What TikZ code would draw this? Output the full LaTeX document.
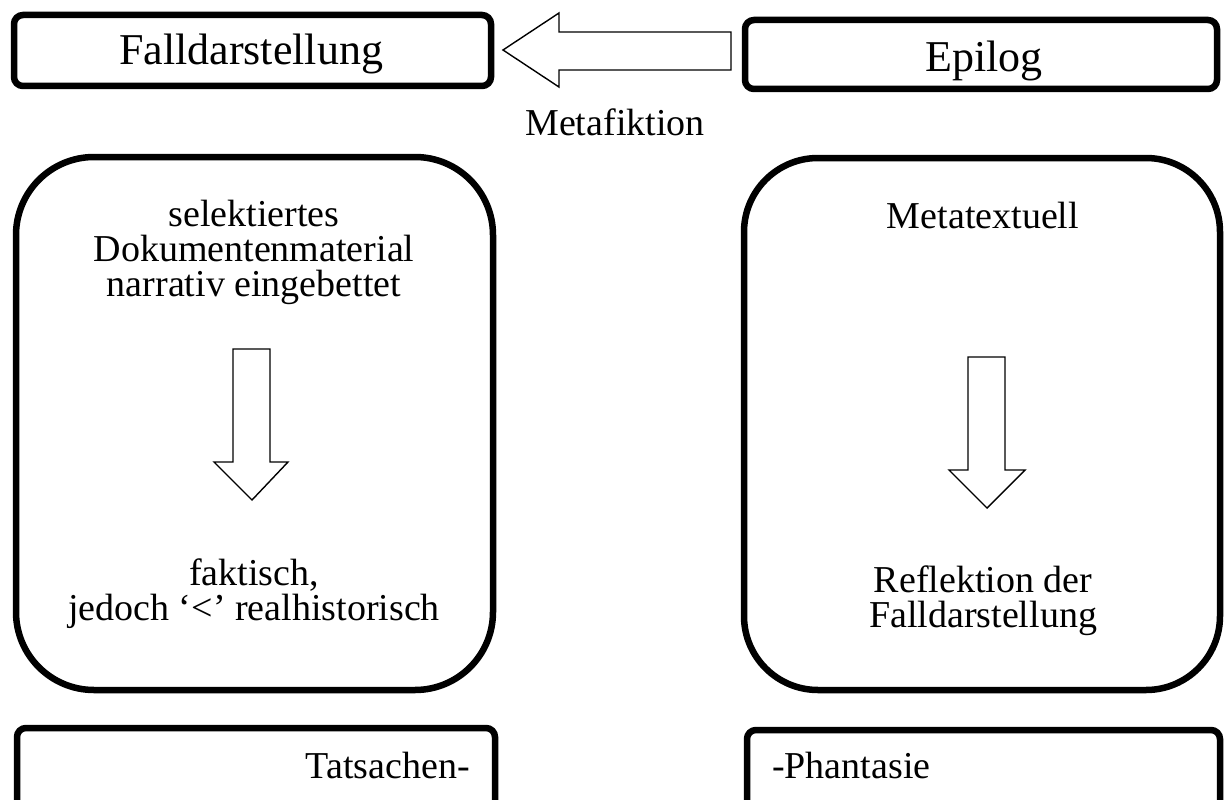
\documentclass[tikz,border=0pt]{standalone}
\usepackage{fontspec}
\setmainfont{Liberation Serif}
\usepackage{tikz}
\usetikzlibrary{positioning}
\definecolor{cLine}{HTML}{000000}
\newcommand{\bigtxt}{\fontsize{38}{35}\selectfont}
\newcommand{\toptxt}{\fontsize{44}{40}\selectfont}
\tikzset{
  tbox/.style ={draw=cLine, line width=6.5pt, rounded corners=9pt, inner sep=0pt},
  rbox/.style ={draw=cLine, line width=6.5pt, rounded corners=78pt, inner sep=0pt},
  blockarr/.style={draw=cLine, line width=1.4pt, fill=white, line join=miter},
  lbl/.style  ={font=\bigtxt, align=center, inner sep=0pt},
  toplbl/.style={font=\toptxt, inner sep=0pt, anchor=base},
}
\begin{document}
\begin{tikzpicture}[x=1pt,y=-1pt]
  \useasboundingbox (0,0) rectangle (1224,800);
  % top row
  \node[tbox, minimum width=477pt, minimum height=71pt] (fall) at (252.5,50.5) {};
  \node[tbox, minimum width=472pt, minimum height=69pt] (epi) at (981,54.5) {};
  \node[toplbl] (tfall) at (251,65) {Falldarstellung};
  \node[toplbl] (tepi) at (984,72) {Epilog};
  \draw[blockarr] (503,50)--(559,13)--(559,32)--(731,32)--(731,70)--(559,70)--(559,87)--cycle;
  \node[lbl] (meta) at (615,122) {Metafiktion};
  % big boxes
  \node[rbox, minimum width=477pt, minimum height=533pt] (links) at (254.5,423.5) {};
  \node[rbox, minimum width=476pt, minimum height=532pt, rounded corners=74pt] (rechts) at (982,424) {};
  \node[lbl] (sel) at (254,252) {selektiertes\\Dokumentenmaterial\\narrativ eingebettet};
  \node[lbl] (fak) at (254,594) {faktisch,\\jedoch ‘<’ realhistorisch};
  \node[lbl] (mtx) at (983,216) {Metatextuell};
  \node[lbl] (refl) at (983,601) {Reflektion der\\Falldarstellung};
  \draw[blockarr] (233,349)--(270,349)--(270,462)--(288,462)--(252,500)--(214,462)--(233,462)--cycle;
  \draw[blockarr] (968,357)--(1005,357)--(1005,470)--(1025,470)--(987,508)--(949,470)--(968,470)--cycle;
  % bottom row
  \node[tbox, minimum width=478pt, minimum height=82pt] (tats) at (256,769) {};
  \node[tbox, minimum width=473pt, minimum height=80pt] (phan) at (983.5,770) {};
  \node[lbl, anchor=east] (ttats) at (470,765) {Tatsachen-};
  \node[lbl, anchor=west] (tphan) at (772,765) {-Phantasie};
\end{tikzpicture}
\end{document}
